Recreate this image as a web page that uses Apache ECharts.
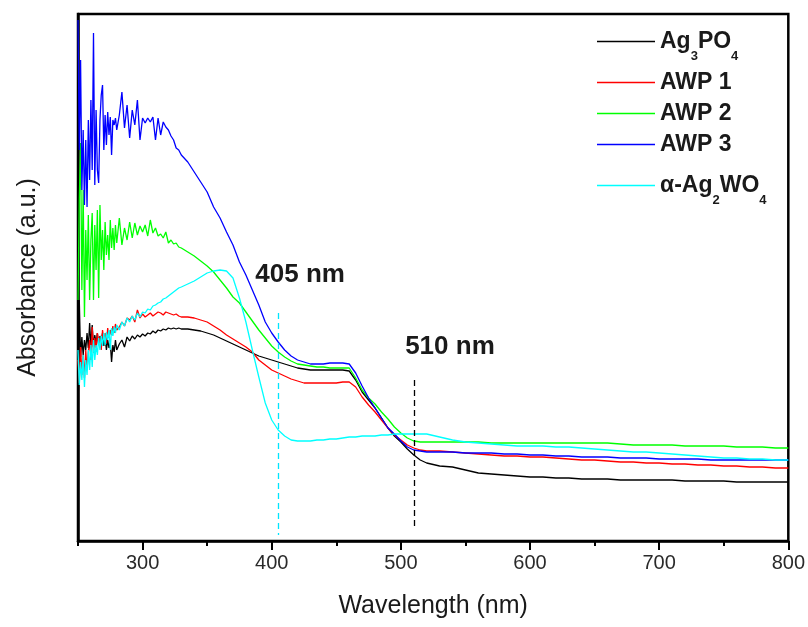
<!DOCTYPE html>
<html>
<head>
<meta charset="utf-8">
<title>UV-Vis absorbance</title>
<script src="https://cdn.jsdelivr.net/npm/echarts@6/dist/echarts.min.js"></script>
<style>
  html, body { margin: 0; padding: 0; background: #fff; }
  #chart { width: 808px; height: 627px; }
</style>
</head>
<body>
<div id="chart"></div>
<script>
// Wavelength grid (nm) shared by all spectra
const wavelength = [
  250,251,252,253,254,255,256,257,258,259,260,261,262,263,264,265,266,267,268,269,270,271,272,273,274,275,276,277,278,279,280,
  282,284,286,288,290,292,294,296,298,300,302,304,306,308,310,312,314,316,318,320,322,324,326,328,330,
  335,340,345,350,355,360,365,370,375,380,385,390,395,400,405,410,415,420,425,430,435,440,445,450,455,460,465,470,475,480,485,490,495,500,505,510,515,520,
  530,540,550,560,570,580,590,600,610,620,630,640,650,660,670,680,690,700,710,720,730,740,750,760,770,780,790,800
];

// Absorbance (a.u.) of each sample
const ag3po4 = [
  1.11,2.41,1.84,2.04,1.86,2.01,1.91,2.08,1.93,2.18,1.96,2.16,1.94,2.06,1.98,2.08,1.96,2.05,1.99,2.08,1.95,2.03,1.91,2.01,1.93,1.98,1.79,1.96,1.89,2.01,1.91,
  1.97,2.01,1.94,2.04,2.00,2.05,2.02,2.06,2.04,2.07,2.05,2.08,2.07,2.10,2.08,2.11,2.10,2.12,2.11,2.13,2.12,2.13,2.12,2.13,2.12,
  2.12,2.11,2.10,2.08,2.06,2.03,2.00,1.97,1.94,1.91,1.88,1.85,1.83,1.81,1.79,1.77,1.75,1.73,1.72,1.71,1.71,1.71,1.71,1.71,1.71,1.70,1.61,1.49,1.41,1.33,1.23,1.13,1.05,0.99,0.92,0.86,0.81,0.78,
  0.75,0.74,0.71,0.68,0.67,0.66,0.65,0.64,0.64,0.63,0.63,0.62,0.62,0.62,0.61,0.61,0.61,0.61,0.61,0.60,0.60,0.60,0.60,0.59,0.59,0.59,0.59,0.59
];
const awp1 = [
  1.81,1.58,1.94,1.66,1.86,1.63,1.91,1.71,1.89,2.01,1.81,2.14,1.88,2.03,1.93,2.08,1.96,2.04,1.91,2.11,2.01,2.08,1.98,2.13,2.03,2.11,2.06,2.15,2.08,2.17,2.11,
  2.14,2.19,2.15,2.23,2.21,2.25,2.19,2.31,2.23,2.27,2.24,2.26,2.28,2.25,2.27,2.29,2.28,2.26,2.29,2.28,2.27,2.26,2.27,2.25,2.24,
  2.24,2.23,2.21,2.19,2.15,2.11,2.06,2.02,1.98,1.94,1.89,1.81,1.76,1.71,1.68,1.65,1.62,1.60,1.58,1.58,1.58,1.58,1.58,1.58,1.59,1.59,1.54,1.44,1.36,1.29,1.21,1.13,1.06,1.01,0.96,0.93,0.91,0.90,
  0.90,0.89,0.88,0.87,0.86,0.85,0.85,0.84,0.84,0.83,0.82,0.81,0.81,0.80,0.79,0.79,0.78,0.78,0.77,0.77,0.76,0.76,0.75,0.75,0.74,0.74,0.73,0.73
];
const awp2 = [
  2.41,3.41,3.98,2.51,3.51,2.24,3.11,2.61,3.26,2.41,3.01,3.28,2.41,3.16,2.71,3.31,2.43,3.36,2.81,3.11,2.71,3.19,2.86,3.06,2.81,3.21,2.93,3.13,2.91,3.16,2.98,
  3.23,2.96,3.13,3.01,3.19,3.03,3.18,3.06,3.15,3.09,3.16,3.05,3.21,3.08,3.13,3.05,3.07,3.03,3.09,2.98,3.01,2.97,2.98,2.94,2.93,
  2.89,2.85,2.80,2.75,2.69,2.61,2.53,2.44,2.38,2.29,2.20,2.11,2.03,1.95,1.89,1.84,1.80,1.77,1.76,1.75,1.74,1.74,1.73,1.73,1.73,1.73,1.63,1.51,1.43,1.37,1.29,1.22,1.14,1.08,1.03,1.00,0.99,0.99,
  0.99,0.99,0.99,0.99,0.98,0.98,0.98,0.98,0.98,0.98,0.98,0.98,0.98,0.98,0.97,0.96,0.96,0.96,0.96,0.95,0.95,0.95,0.95,0.94,0.94,0.94,0.93,0.93
];
const awp3 = [
  5.21,3.91,4.81,3.51,4.11,3.36,4.01,3.34,4.21,3.61,4.41,3.71,5.08,3.56,4.31,3.71,3.58,4.21,4.46,4.56,3.91,4.26,3.96,4.29,4.06,4.24,3.86,4.21,4.16,4.23,4.11,
  4.26,4.49,4.13,4.36,4.03,4.31,4.16,4.41,4.01,4.23,4.18,4.23,4.19,4.24,4.01,4.23,4.06,4.19,4.14,4.11,4.05,4.01,3.93,3.91,3.86,
  3.79,3.69,3.59,3.49,3.34,3.23,3.09,2.96,2.79,2.66,2.51,2.36,2.19,2.08,1.99,1.91,1.85,1.81,1.79,1.77,1.77,1.77,1.78,1.78,1.78,1.77,1.68,1.55,1.43,1.33,1.23,1.13,1.07,1.00,0.94,0.91,0.90,0.89,
  0.89,0.89,0.88,0.88,0.88,0.87,0.87,0.86,0.86,0.85,0.85,0.84,0.84,0.84,0.83,0.83,0.83,0.82,0.82,0.82,0.82,0.81,0.81,0.81,0.81,0.81,0.81,0.81
];
const ag2wo4 = [
  1.91,1.56,1.79,1.61,1.86,1.54,1.81,1.66,1.91,1.71,1.96,1.74,2.01,1.81,1.96,1.86,2.03,1.91,2.05,1.95,2.08,1.96,2.09,2.01,2.11,1.91,2.13,2.05,2.14,2.08,2.16,
  2.11,2.19,2.15,2.23,2.19,2.25,2.21,2.28,2.24,2.29,2.28,2.32,2.31,2.35,2.36,2.38,2.39,2.42,2.43,2.45,2.47,2.49,2.51,2.53,2.54,
  2.57,2.60,2.64,2.68,2.70,2.71,2.70,2.63,2.43,2.19,1.91,1.64,1.38,1.21,1.11,1.05,1.01,1.00,1.00,1.00,1.01,1.01,1.02,1.02,1.03,1.04,1.04,1.05,1.05,1.05,1.06,1.06,1.07,1.07,1.07,1.07,1.07,1.07,
  1.04,1.01,0.99,0.98,0.97,0.96,0.95,0.95,0.95,0.94,0.94,0.93,0.92,0.91,0.90,0.89,0.89,0.88,0.87,0.86,0.85,0.84,0.83,0.83,0.82,0.82,0.81,0.81
];

const seriesNames = ['Ag3PO4', 'AWP 1', 'AWP 2', 'AWP 3', 'α-Ag2WO4'];
const seriesColors = ['#000000', '#ff0000', '#00ff00', '#0000ff', '#00ffff'];
const seriesValues = [ag3po4, awp1, awp2, awp3, ag2wo4];

// Axis ticks
const majorTicks = [300, 400, 500, 600, 700, 800];
const minorTicks = [250, 350, 450, 550, 650, 750];

// Absorption-edge markers: wavelength, dashed line span (a.u.), label anchor
const edgeWavelengths = [405, 510];
const edgeLineSpans = [[2.28, 0.06], [1.61, 0.11]];
const edgeLabelAnchors = [[422, 2.66], [538, 1.94]];
const edgeLabels = ['405 nm', '510 nm'];

const FONT = '"Liberation Sans", Arial, Helvetica, sans-serif';
const TEXT = '#1a1a1a';

const legendMarkup = {
  'Ag3PO4': '{b|Ag}{s|3}{b|PO}{s|4}',
  'AWP 1': '{b|AWP 1}',
  'AWP 2': '{b|AWP 2}',
  'AWP 3': '{b|AWP 3}',
  'α-Ag2WO4': '{b|α-Ag}{s|2}{b|WO}{s|4}'
};

function pairs(xs, ys) {
  return xs.map((x, i) => [x, ys[i]]);
}

function edgeMark(k, color) {
  return {
    markLine: {
      silent: true,
      symbol: ['none', 'none'],
      label: { show: false },
      lineStyle: { color: color, type: [6, 4], width: 1.3 },
      data: [[
        { coord: [edgeWavelengths[k], edgeLineSpans[k][0]] },
        { coord: [edgeWavelengths[k], edgeLineSpans[k][1]] }
      ]]
    },
    markPoint: {
      silent: true,
      symbol: 'circle',
      symbolSize: 1,
      itemStyle: { color: 'rgba(0,0,0,0)' },
      label: {
        show: true,
        position: 'inside',
        formatter: '{b}',
        fontFamily: FONT,
        fontSize: 26,
        fontWeight: 'bold',
        color: TEXT
      },
      data: [{ name: edgeLabels[k], coord: edgeLabelAnchors[k] }]
    }
  };
}

const series = seriesNames.map((name, i) => {
  const s = {
    name: name,
    type: 'line',
    data: pairs(wavelength, seriesValues[i]),
    symbol: 'none',
    showSymbol: false,
    lineStyle: { color: seriesColors[i], width: 1.3 },
    itemStyle: { color: seriesColors[i] },
    emphasis: { disabled: true }
  };
  if (name === 'Ag3PO4') Object.assign(s, edgeMark(1, '#000000'));
  if (name === 'α-Ag2WO4') Object.assign(s, edgeMark(0, '#00e5ff'));
  return s;
});

const chart = echarts.init(document.getElementById('chart'), null, { renderer: 'canvas' });
chart.setOption({
  animation: false,
  backgroundColor: '#ffffff',
  grid: {
    left: 78, right: 19, top: 14, bottom: 86,
    show: true, borderColor: '#000', borderWidth: 2.5, backgroundColor: 'transparent'
  },
  legend: {
    orient: 'vertical',
    left: 592,
    top: 15,
    icon: 'rect',
    itemWidth: 58,
    itemHeight: 1.6,
    itemGap: 8,
    selectedMode: false,
    data: seriesNames,
    formatter: n => legendMarkup[n],
    textStyle: {
      fontFamily: FONT,
      color: TEXT,
      rich: {
        b: { fontFamily: FONT, fontSize: 23, fontWeight: 'bold', lineHeight: 26, color: TEXT },
        s: { fontFamily: FONT, fontSize: 13, fontWeight: 'bold', lineHeight: 14, padding: [30, 0, 0, 0], color: TEXT }
      }
    }
  },
  xAxis: [{
    type: 'value',
    min: 250, max: 800, interval: 50,
    name: 'Wavelength (nm)',
    nameLocation: 'middle',
    nameGap: 53,
    nameTextStyle: { fontFamily: FONT, fontSize: 25, color: TEXT },
    axisLine: { show: true, lineStyle: { color: '#000', width: 2.5 } },
    axisTick: { show: true, inside: false, length: 9, customValues: majorTicks, lineStyle: { color: '#000', width: 2 } },
    axisLabel: { show: true, customValues: majorTicks, margin: 12, fontFamily: FONT, fontSize: 20, color: '#2a2a2a' },
    splitLine: { show: false }
  }, {
    type: 'value',
    min: 250, max: 800, interval: 50,
    position: 'bottom',
    axisLine: { show: false },
    axisTick: { show: true, inside: false, length: 5, customValues: minorTicks, lineStyle: { color: '#000', width: 2 } },
    axisLabel: { show: false },
    splitLine: { show: false }
  }],
  yAxis: {
    type: 'value',
    min: 0, max: 5.27,
    name: 'Absorbance (a.u.)',
    nameLocation: 'middle',
    nameGap: 37,
    nameTextStyle: { fontFamily: FONT, fontSize: 25, color: TEXT },
    axisLine: { show: true, lineStyle: { color: '#000', width: 2.5 } },
    axisTick: { show: false },
    axisLabel: { show: false },
    splitLine: { show: false }
  },
  series: series
});
</script>
</body>
</html>
